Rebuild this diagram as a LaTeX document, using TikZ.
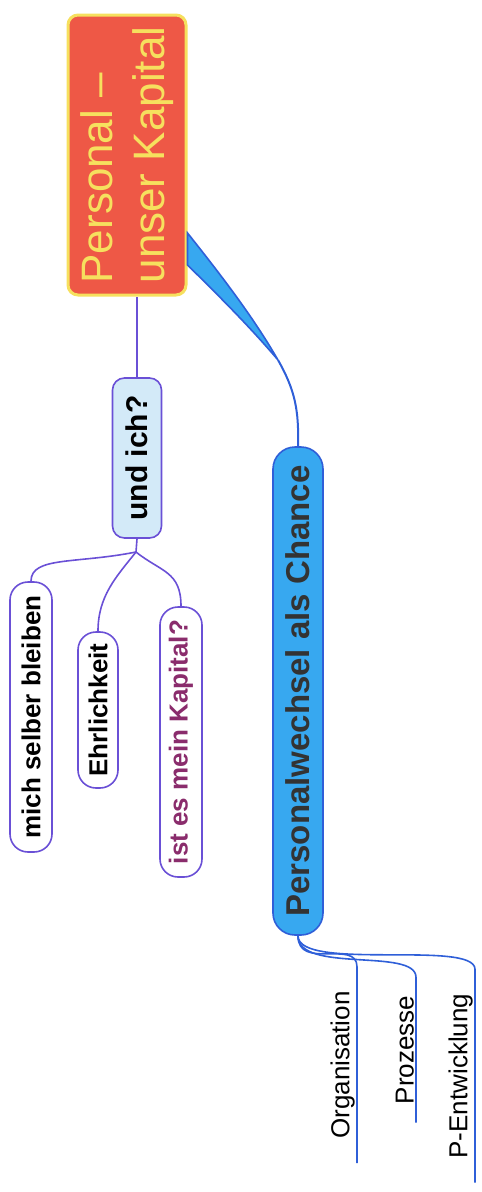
\documentclass[tikz,border=0pt]{standalone}
\usepackage{fontspec}
\setmainfont{Liberation Sans}
\definecolor{rot}{HTML}{EE5846}
\definecolor{gelb}{HTML}{F6E05E}
\definecolor{lila}{HTML}{6A50D6}
\definecolor{hellblau}{HTML}{D3EAF8}
\definecolor{blau}{HTML}{37A8F0}
\definecolor{dunkelblau}{HTML}{2F5FD8}
\definecolor{weinrot}{HTML}{8A2C6C}
\tikzset{
  kern/.style={rotate=90, draw=gelb, fill=rot, line width=3pt, rounded corners=10pt, text=gelb, align=left, font=\fontsize{44}{52}\selectfont, minimum width=280pt, minimum height=118pt},
  ast/.style={rotate=90, rounded corners=18pt, line width=1.6pt, font=\bfseries\fontsize{26}{30}\selectfont},
  frage/.style={ast, draw=lila, fill=hellblau, rounded corners=12pt, font=\bfseries\fontsize{30}{34}\selectfont},
  punkt/.style={ast, draw=lila, fill=white},
  zweig/.style={ast, draw=dunkelblau, fill=blau, text=black!80, rounded corners=22pt, font=\bfseries\fontsize{33}{38}\selectfont},
  blatt/.style={rotate=90, anchor=south, inner sep=2pt, font=\fontsize{26}{30}\selectfont},
  lilalinie/.style={draw=lila, line width=1.6pt},
  blaulinie/.style={draw=dunkelblau, line width=1.6pt},
}

\begin{document}
\begin{tikzpicture}[x=1pt,y=-1pt]
\useasboundingbox (0,0) rectangle (482,1192);
% Mitte
\node[kern] (kapital) at (127,155) {Personal –\\unser Kapital};
% linker Ast
\node[frage, minimum width=160pt, minimum height=49pt] (undich) at (137,458) {und ich?};
\node[punkt, minimum width=270pt, minimum height=42pt] (selber) at (31,717) {mich selber bleiben};
\node[punkt, minimum width=156pt, minimum height=40pt] (ehrlich) at (98,710) {Ehrlichkeit};
\node[punkt, minimum width=270pt, minimum height=42pt, text=weinrot] (meinkap) at (181,742) {ist es mein Kapital?};
% rechter Ast
\node[zweig, minimum width=488pt, minimum height=50pt] (chance) at (298,691) {Personalwechsel als Chance};
\node[blatt, minimum width=196pt] (org) at (357,1065) {Organisation};
\node[blatt, minimum width=145pt] (proz) at (416,1050) {Prozesse};
\node[blatt, minimum width=213pt] (pent) at (475,1076) {P-Entwicklung};

\draw[lilalinie, line width=1.2pt] (undich.east) -- (undich.east |- kapital.west);
\coordinate (gabel) at (136,552);
\draw[lilalinie] (undich.west) -- (gabel);
\draw[lilalinie] (gabel) .. controls +(-60,12) and +(0,-25) .. (selber.east);
\draw[lilalinie] (gabel) .. controls +(-20,25) and +(0,-35) .. (ehrlich.east);
\draw[lilalinie] (gabel) .. controls +(25,20) and +(0,-35) .. (meinkap.east);

\coordinate (spitze) at (278,360);
\filldraw[fill=blau, draw=dunkelblau, line width=1.6pt] ([yshift=-78pt]kapital.south) .. controls (225,280) and (255,320) .. (spitze) .. controls (250,327) and (220,297) .. ([yshift=-110pt]kapital.south) -- cycle;
\draw[blaulinie, line width=2pt] (spitze) .. controls (295,390) and (299,410) .. (chance.east);

\draw[blaulinie] (chance.west) .. controls +(0,35) and +(0,-28) .. (org.south east) -- (org.south west);
\draw[blaulinie] (chance.west) .. controls +(0,38) and +(0,-30) .. (proz.south east) -- (proz.south west);
\draw[blaulinie] (chance.west) .. controls +(0,36) and +(0,-30) .. (pent.south east) -- (pent.south west);
\end{tikzpicture}
\end{document}
